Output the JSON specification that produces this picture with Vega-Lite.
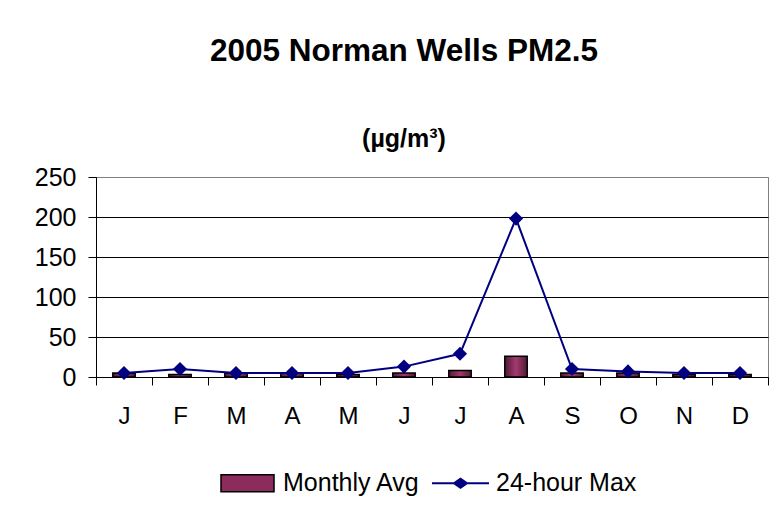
{
  "$schema": "https://vega.github.io/schema/vega-lite/v6.json",
  "width": 672,
  "height": 200,
  "autosize": {"type": "none"},
  "padding": {"left": 96, "top": 177, "right": 11, "bottom": 131},
  "background": "white",
  "title": {
    "text": "2005 Norman Wells PM2.5",
    "subtitle": "\u00a0\u00a0\u00a0\u00a0(µg/m³)",
    "anchor": "middle",
    "frame": "group",
    "dx": -28,
    "offset": 13,
    "font": "Liberation Sans",
    "fontSize": 31.5,
    "fontWeight": "bold",
    "color": "black",
    "subtitleFont": "Liberation Sans",
    "subtitleFontSize": 25,
    "subtitleFontWeight": "bold",
    "subtitleColor": "black",
    "subtitlePadding": 60
  },
  "data": {
    "values": [
      {"month": "Jan", "series": "Monthly Avg", "value": 5},
      {"month": "Feb", "series": "Monthly Avg", "value": 3},
      {"month": "Mar", "series": "Monthly Avg", "value": 5},
      {"month": "Apr", "series": "Monthly Avg", "value": 5},
      {"month": "May", "series": "Monthly Avg", "value": 3},
      {"month": "Jun", "series": "Monthly Avg", "value": 5},
      {"month": "Jul", "series": "Monthly Avg", "value": 8},
      {"month": "Aug", "series": "Monthly Avg", "value": 26},
      {"month": "Sep", "series": "Monthly Avg", "value": 5},
      {"month": "Oct", "series": "Monthly Avg", "value": 5},
      {"month": "Nov", "series": "Monthly Avg", "value": 3},
      {"month": "Dec", "series": "Monthly Avg", "value": 3},
      {"month": "Jan", "series": "24-hour Max", "value": 5},
      {"month": "Feb", "series": "24-hour Max", "value": 10},
      {"month": "Mar", "series": "24-hour Max", "value": 5},
      {"month": "Apr", "series": "24-hour Max", "value": 5},
      {"month": "May", "series": "24-hour Max", "value": 5},
      {"month": "Jun", "series": "24-hour Max", "value": 13},
      {"month": "Jul", "series": "24-hour Max", "value": 29},
      {"month": "Aug", "series": "24-hour Max", "value": 198},
      {"month": "Sep", "series": "24-hour Max", "value": 10},
      {"month": "Oct", "series": "24-hour Max", "value": 7},
      {"month": "Nov", "series": "24-hour Max", "value": 5},
      {"month": "Dec", "series": "24-hour Max", "value": 5}
    ]
  },
  "encoding": {
    "x": {
      "field": "month",
      "type": "nominal",
      "sort": ["Jan", "Feb", "Mar", "Apr", "May", "Jun", "Jul", "Aug", "Sep", "Oct", "Nov", "Dec"],
      "scale": {"paddingInner": 0, "paddingOuter": 0},
      "axis": {
        "title": null,
        "labelExpr": "substring(datum.label, 0, 1)",
        "labelAngle": 0,
        "labelFont": "Liberation Sans",
        "labelFontSize": 24,
        "labelColor": "black",
        "labelPadding": 19,
        "tickBand": "extent",
        "tickSize": 8,
        "tickColor": "black",
        "domainColor": "black",
        "grid": false
      }
    },
    "y": {
      "field": "value",
      "type": "quantitative",
      "scale": {"domain": [0, 250], "nice": false},
      "axis": {
        "title": null,
        "values": [0, 50, 100, 150, 200, 250],
        "labelFont": "Liberation Sans",
        "labelFontSize": 25,
        "labelColor": "black",
        "labelPadding": 12,
        "tickSize": 8,
        "tickColor": "black",
        "domainColor": "black",
        "grid": true,
        "gridColor": {"condition": {"test": "datum.value == 250", "value": "#808080"}, "value": "black"},
        "gridOpacity": 1,
        "gridWidth": 1
      }
    }
  },
  "layer": [
    {
      "transform": [{"filter": "datum.series == 'Monthly Avg'"}],
      "mark": {
        "type": "bar",
        "width": {"band": 0.4},
        "fill": {
          "gradient": "linear",
          "x1": 0, "y1": 0, "x2": 1, "y2": 0,
          "stops": [
            {"offset": 0, "color": "#4f1b35"},
            {"offset": 0.5, "color": "#a33a6e"},
            {"offset": 1, "color": "#4f1b35"}
          ]
        },
        "stroke": "black",
        "strokeWidth": 1.5
      }
    },
    {
      "transform": [{"filter": "datum.series == '24-hour Max'"}],
      "mark": {"type": "line", "color": "#000080", "strokeWidth": 2}
    },
    {
      "transform": [{"filter": "datum.series == '24-hour Max'"}],
      "mark": {"type": "point", "shape": "diamond", "filled": true, "color": "#000080", "size": 200, "opacity": 1}
    },
    {
      "transform": [{"filter": "false"}],
      "mark": {"type": "point", "filled": true, "opacity": 1},
      "encoding": {
        "color": {
          "field": "series",
          "type": "nominal",
          "scale": {"domain": ["Monthly Avg", "24-hour Max"], "range": ["#8b2c5c", "#000080"]},
          "legend": {
            "title": null,
            "orient": "none",
            "legendX": 122,
            "legendY": 276.5,
            "direction": "horizontal",
            "labelFont": "Liberation Sans",
            "labelFontSize": 25,
            "labelColor": "black",
            "labelOffset": 6,
            "columnPadding": 8,
            "symbolSize": 3249,
            "symbolOpacity": 1,
            "symbolStrokeWidth": 1.5,
            "padding": 0,
            "encode": {
              "symbols": {
                "update": {
                  "stroke": {"signal": "datum.value === 'Monthly Avg' ? 'black' : 'transparent'"},
                  "fill": {"signal": "datum.value === 'Monthly Avg' ? {gradient: 'linear', x1: 0, y1: 0, x2: 1, y2: 0, stops: [{offset: 0, color: '#4f1b35'}, {offset: 0.5, color: '#a33a6e'}, {offset: 1, color: '#4f1b35'}]} : '#000080'"}
                }
              }
            }
          }
        },
        "shape": {
          "field": "series",
          "type": "nominal",
          "scale": {
            "domain": ["Monthly Avg", "24-hour Max"],
            "range": [
              "M-0.93,-0.3L0.93,-0.3L0.93,0.3L-0.93,0.3Z",
              "M-1,-0.035L1,-0.035L1,0.035L-1,0.035Z M-0.29,0L0,-0.2L0.29,0L0,0.2Z"
            ]
          },
          "legend": {
            "title": null,
            "orient": "none",
            "legendX": 122,
            "legendY": 276.5,
            "direction": "horizontal",
            "labelFont": "Liberation Sans",
            "labelFontSize": 25,
            "labelColor": "black",
            "labelOffset": 6,
            "columnPadding": 8,
            "symbolSize": 3249,
            "symbolOpacity": 1,
            "symbolStrokeWidth": 1.5,
            "padding": 0
          }
        }
      }
    }
  ],
  "config": {
    "font": "Liberation Sans",
    "view": {"stroke": "#808080", "strokeWidth": 1}
  }
}
